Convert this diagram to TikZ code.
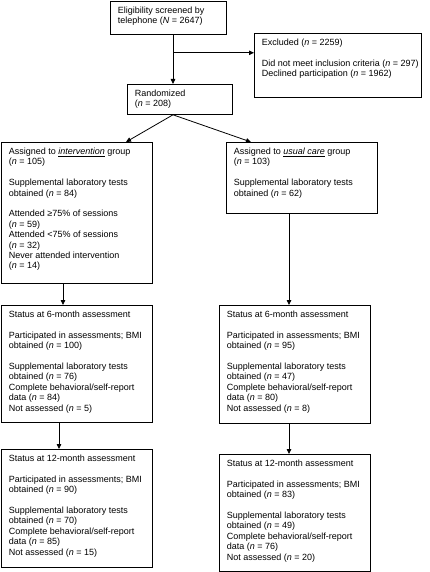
\documentclass[tikz,border=0pt]{standalone}
\usepackage{fontspec}
\setmainfont{Liberation Sans}
\usetikzlibrary{arrows.meta}
\newcommand{\boxtxt}[3]{\begin{minipage}[c][#2][t]{#1}\vspace*{5pt}\leftskip=7.5pt\rightskip=0pt plus 1fil\noindent\rule{0pt}{7pt}#3\end{minipage}}
\newcommand{\nn}{\textit{n}}
\tikzset{
  fbox/.style={draw=black, line width=0.8pt, inner sep=0pt, anchor=north west, font=\fontsize{9}{10.4}\selectfont},
  arr/.style={draw=black, line width=0.8pt, -{Triangle[length=5pt,width=4.5pt]}},
}
\begin{document}
\begin{tikzpicture}[x=1pt,y=-1pt]
\useasboundingbox (0,0) rectangle (430,572);
\node[fbox] (elig) at (110,1) {\boxtxt{116pt}{33pt}{Eligibility screened by\\telephone (\textit{N} = 2647)}};
\node[fbox] (excl) at (254,33) {\boxtxt{167pt}{64pt}{Excluded (\nn{} = 2259)\\[10.4pt]Did not meet inclusion criteria (\nn{} = 297)\\Declined participation (\nn{} = 1962)}};
\node[fbox] (rand) at (127,84) {\boxtxt{105pt}{30pt}{Randomized\\(\nn{} = 208)}};
\node[fbox] (int) at (1,142) {\boxtxt{151pt}{141pt}{Assigned to \underline{\textit{intervention}} group\\(\nn{} = 105)\\[10.4pt]Supplemental laboratory tests\\obtained (\nn{} = 84)\\[10.4pt]Attended ≥75\% of sessions\\(\nn{} = 59)\\Attended <75\% of sessions\\(\nn{} = 32)\\Never attended intervention\\(\nn{} = 14)}};
\node[fbox] (usu) at (226,142) {\boxtxt{151pt}{71pt}{Assigned to \underline{\textit{usual care}} group\\(\nn{} = 103)\\[10.4pt]Supplemental laboratory tests\\obtained (\nn{} = 62)}};
\node[fbox] (s6a) at (1,305) {\boxtxt{151pt}{117pt}{Status at 6-month assessment\\[10.4pt]Participated in assessments; BMI\\obtained (\nn{} = 100)\\[10.4pt]Supplemental laboratory tests\\obtained (\nn{} = 76)\\Complete behavioral/self-report\\data (\nn{} = 84)\\Not assessed (\nn{} = 5)}};
\node[fbox] (s6b) at (219,305) {\boxtxt{151pt}{118pt}{Status at 6-month assessment\\[10.4pt]Participated in assessments; BMI\\obtained (\nn{} = 95)\\[10.4pt]Supplemental laboratory tests\\obtained (\nn{} = 47)\\Complete behavioral/self-report\\data (\nn{} = 80)\\Not assessed (\nn{} = 8)}};
\node[fbox] (s12a) at (1,449) {\boxtxt{151pt}{118pt}{Status at 12-month assessment\\[10.4pt]Participated in assessments; BMI\\obtained (\nn{} = 90)\\[10.4pt]Supplemental laboratory tests\\obtained (\nn{} = 70)\\Complete behavioral/self-report\\data (\nn{} = 85)\\Not assessed (\nn{} = 15)}};
\node[fbox] (s12b) at (219,454) {\boxtxt{151pt}{117pt}{Status at 12-month assessment\\[10.4pt]Participated in assessments; BMI\\obtained (\nn{} = 83)\\[10.4pt]Supplemental laboratory tests\\obtained (\nn{} = 49)\\Complete behavioral/self-report\\data (\nn{} = 76)\\Not assessed (\nn{} = 20)}};
\draw[arr] ([xshift=63pt]elig.south west) -- ([xshift=46pt]rand.north west);
\coordinate (j) at ([xshift=63pt,yshift=-18pt]elig.south west);
\draw[arr] (j) -- (j -| excl.west);
\draw[arr] ([xshift=46pt]rand.south west) -- ([xshift=125pt]int.north west);
\draw[arr] ([xshift=46pt]rand.south west) -- ([xshift=25pt]usu.north west);
\draw[arr] ([xshift=62pt]int.south west) -- ([xshift=62pt]s6a.north west);
\draw[arr] ([xshift=63pt]usu.south west) -- ([xshift=70pt]s6b.north west);
\draw[arr] ([xshift=58pt]s6a.south west) -- ([xshift=58pt]s12a.north west);
\draw[arr] ([xshift=70pt]s6b.south west) -- ([xshift=70pt]s12b.north west);
\end{tikzpicture}
\end{document}
